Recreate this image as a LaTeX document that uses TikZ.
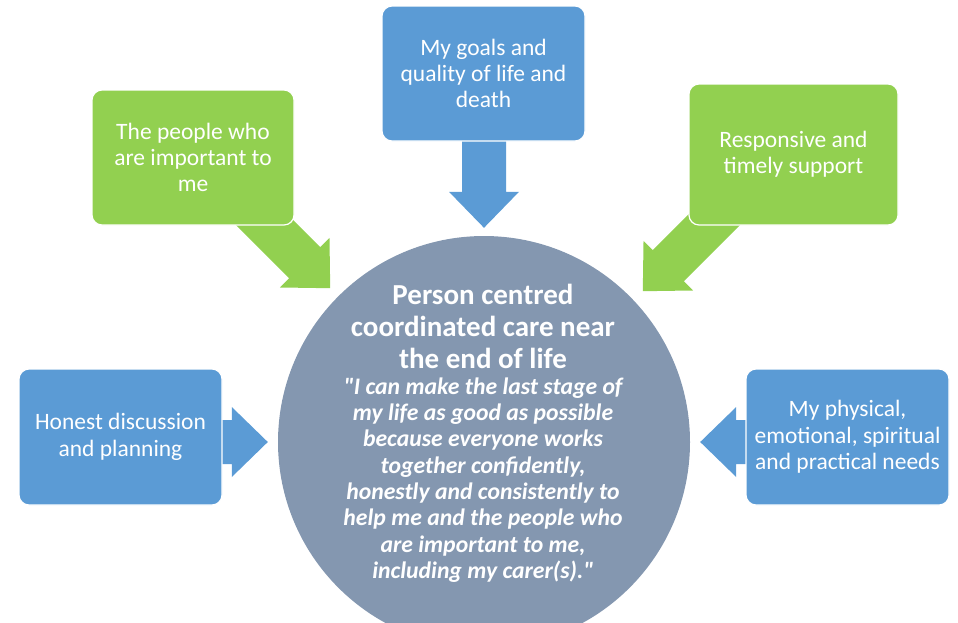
\documentclass[tikz,border=0pt]{standalone}
\usepackage{fontspec}
\setmainfont{Carlito}
\usetikzlibrary{calc}
\definecolor{boxblue}{HTML}{5B9BD5}
\definecolor{boxgreen}{HTML}{92D050}
\definecolor{hubgrey}{HTML}{8497B0}
% block arrow: #1 tip, #2 direction (degrees), #3 total length, #4 colour
\newcommand\blockarrow[4]{%
  \begin{scope}[shift={(#1)}, rotate=#2]
    \fill[#4] (0pt,0pt) -- (-36pt,35pt) -- (-36pt,22pt) -- (-#3,22pt)
      -- (-#3,-22pt) -- (-36pt,-22pt) -- (-36pt,-35pt) -- cycle;
  \end{scope}}
\begin{document}
\begin{tikzpicture}[x=1pt,y=-1pt,
  topic/.style={rounded corners=10pt, draw=white, line width=1.2pt,
    text=white, align=center, inner sep=4pt,
    font=\fontsize{23.5}{26.4}\selectfont},
  bluetopic/.style={topic, fill=boxblue},
  greentopic/.style={topic, fill=boxgreen},
  hubtitle/.style={text=white, align=center, inner sep=0pt,
    font=\fontsize{29}{32}\selectfont\bfseries},
  hubquote/.style={text=white, align=center, inner sep=0pt,
    font=\fontsize{23.7}{26.3}\selectfont\bfseries\itshape}]
\useasboundingbox (0,0) rectangle (958,622);
\clip (0,0) rectangle (958,622);

% central circle
\node[circle, fill=hubgrey, minimum size=412pt, inner sep=0pt] (hub) at (484,442) {};

% arrow tips around the circle
\coordinate (tipGoals)   at ($(hub.north)+(0,-8)$);
\coordinate (tipPeople)  at ($(hub.135)+(-8,-8)$);
\coordinate (tipSupport) at ($(hub.45)+(13,-5)$);
\coordinate (tipHonest)  at ($(hub.west)+(-10,0)$);
\coordinate (tipNeeds)   at ($(hub.east)+(10,0)$);

\blockarrow{tipGoals}{-90}{100pt}{boxblue}
\blockarrow{tipPeople}{-45}{140pt}{boxgreen}
\blockarrow{tipSupport}{-135}{140pt}{boxgreen}
\blockarrow{tipHonest}{0}{60pt}{boxblue}
\blockarrow{tipNeeds}{180}{60pt}{boxblue}

% surrounding topics
\node[bluetopic, minimum width=203pt, minimum height=135pt] (goals) at (483.5,73.5)
  {My goals and\\quality of life and\\death};
\node[greentopic, minimum width=202pt, minimum height=135pt] (people) at (193,157.5)
  {The people who\\are important to\\me};
\node[greentopic, minimum width=209pt, minimum height=141pt] (support) at (793.5,154.5)
  {Responsive and\\timely support};
\node[bluetopic, minimum width=203pt, minimum height=136pt] (honest) at (120.5,437)
  {Honest discussion\\and planning};
\node[bluetopic, minimum width=203pt, minimum height=136pt] (needs) at (847.5,437)
  {My physical,\\emotional, spiritual\\and practical needs};

% text in the circle
\node[hubtitle] (title) at (483,326)
  {Person centred\\coordinated care near\\the end of life};
\node[hubquote] (quote) at (483,480)
  {\textquotedbl I can make the last stage of\\my life as good as possible\\because everyone works\\together confidently,\\honestly and consistently to\\help me and the people who\\are important to me,\\including my carer(s).\textquotedbl};
\end{tikzpicture}
\end{document}
